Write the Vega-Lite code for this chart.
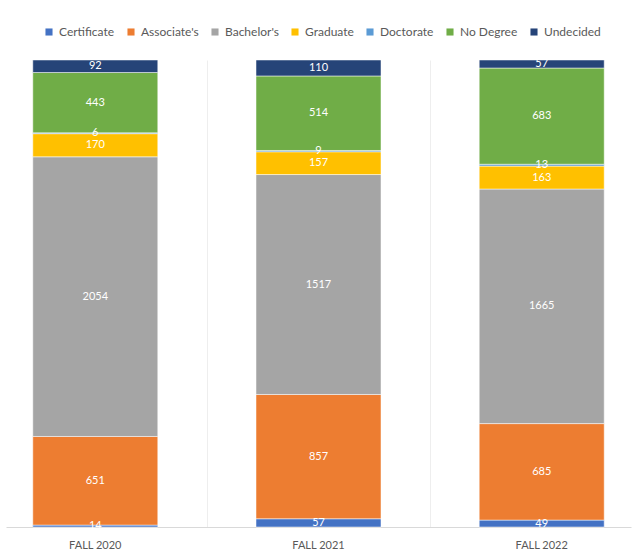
{
  "$schema": "https://vega.github.io/schema/vega-lite/v6.json",
  "width": 625,
  "height": 467,
  "padding": {"left": 6, "right": 6, "top": 26, "bottom": 8},
  "background": "white",
  "config": {"view": {"stroke": null}, "font": "Lato"},
  "data": {
    "values": [
      {"term": "FALL 2020", "degree": "Certificate", "rank": 1, "count": 14},
      {"term": "FALL 2020", "degree": "Associate's", "rank": 2, "count": 651},
      {"term": "FALL 2020", "degree": "Bachelor's", "rank": 3, "count": 2054},
      {"term": "FALL 2020", "degree": "Graduate", "rank": 4, "count": 170},
      {"term": "FALL 2020", "degree": "Doctorate", "rank": 5, "count": 6},
      {"term": "FALL 2020", "degree": "No Degree", "rank": 6, "count": 443},
      {"term": "FALL 2020", "degree": "Undecided", "rank": 7, "count": 92},
      {"term": "FALL 2021", "degree": "Certificate", "rank": 1, "count": 57},
      {"term": "FALL 2021", "degree": "Associate's", "rank": 2, "count": 857},
      {"term": "FALL 2021", "degree": "Bachelor's", "rank": 3, "count": 1517},
      {"term": "FALL 2021", "degree": "Graduate", "rank": 4, "count": 157},
      {"term": "FALL 2021", "degree": "Doctorate", "rank": 5, "count": 9},
      {"term": "FALL 2021", "degree": "No Degree", "rank": 6, "count": 514},
      {"term": "FALL 2021", "degree": "Undecided", "rank": 7, "count": 110},
      {"term": "FALL 2022", "degree": "Certificate", "rank": 1, "count": 49},
      {"term": "FALL 2022", "degree": "Associate's", "rank": 2, "count": 685},
      {"term": "FALL 2022", "degree": "Bachelor's", "rank": 3, "count": 1665},
      {"term": "FALL 2022", "degree": "Graduate", "rank": 4, "count": 163},
      {"term": "FALL 2022", "degree": "Doctorate", "rank": 5, "count": 13},
      {"term": "FALL 2022", "degree": "No Degree", "rank": 6, "count": 683},
      {"term": "FALL 2022", "degree": "Undecided", "rank": 7, "count": 57}
    ]
  },
  "transform": [
    {"stack": "count", "groupby": ["term"], "sort": [{"field": "rank", "order": "ascending"}], "offset": "normalize", "as": ["y0", "y1"]},
    {"calculate": "(datum.y0 + datum.y1) / 2", "as": "ymid"}
  ],
  "encoding": {
    "x": {
      "field": "term",
      "type": "nominal",
      "scale": {"paddingInner": 0.44, "paddingOuter": 0.12},
      "axis": {
        "title": null,
        "labelAngle": 0,
        "ticks": false,
        "labelPadding": 12,
        "labelFontSize": 11,
        "labelColor": "#595959",
        "domainColor": "#d9d9d9",
        "grid": true,
        "gridColor": "#eeeeee",
        "bandPosition": -0.39
      }
    }
  },
  "layer": [
    {
      "mark": {"type": "bar", "stroke": "white", "strokeWidth": 0.5},
      "encoding": {
        "y": {"field": "y0", "type": "quantitative", "scale": {"domain": [0, 1]}, "axis": null},
        "y2": {"field": "y1"},
        "color": {
          "field": "degree",
          "type": "nominal",
          "scale": {
            "domain": ["Certificate", "Associate's", "Bachelor's", "Graduate", "Doctorate", "No Degree", "Undecided"],
            "range": ["#4472C4", "#ED7D31", "#A5A5A5", "#FFC000", "#5B9BD5", "#70AD47", "#264478"]
          },
          "legend": {
            "title": null,
            "orient": "none",
            "legendX": 37,
            "legendY": -34,
            "direction": "horizontal",
            "symbolType": "square",
            "symbolSize": 50,
            "symbolStrokeWidth": 0,
            "labelFontSize": 12,
            "labelColor": "#595959",
            "columnPadding": 10
          }
        }
      }
    },
    {
      "mark": {"type": "text", "color": "white", "fontSize": 11, "baseline": "middle"},
      "encoding": {
        "y": {"field": "ymid", "type": "quantitative"},
        "text": {"field": "count", "type": "quantitative"}
      }
    }
  ]
}
